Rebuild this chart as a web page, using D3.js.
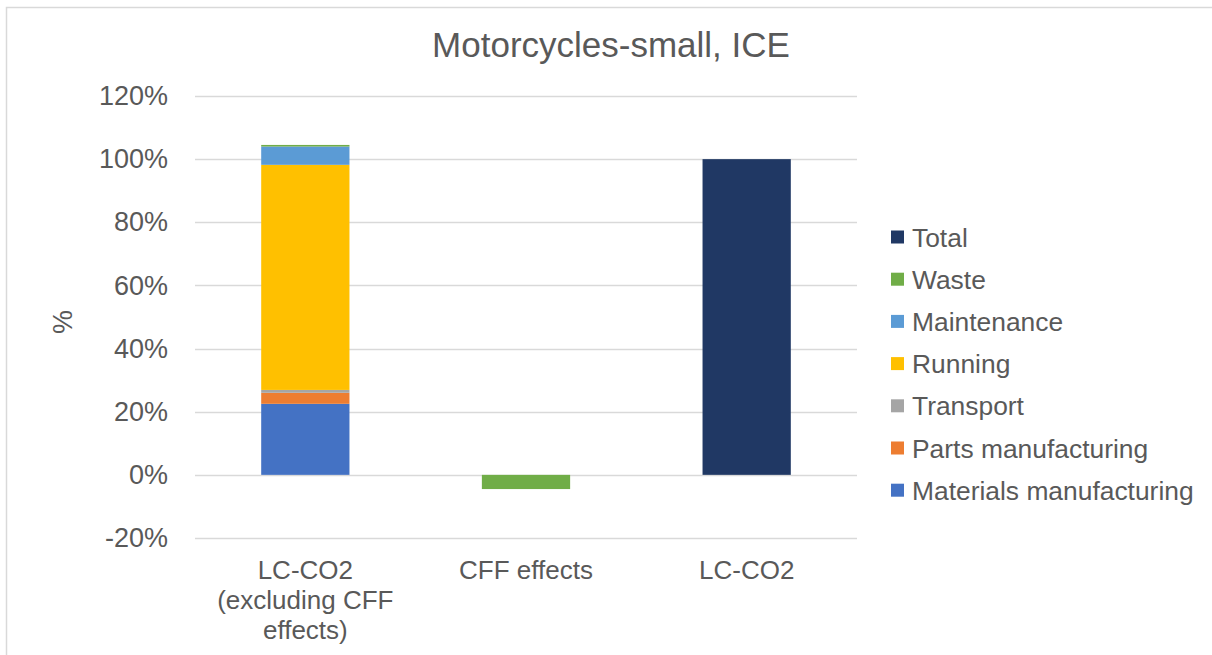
<!DOCTYPE html>
<html>
<head>
<meta charset="utf-8">
<script src="https://cdn.jsdelivr.net/npm/d3@7"></script>
<style>
  body { margin: 0; background: #fff; }
  svg { display: block; font-family: "Liberation Sans", Arial, sans-serif; }
</style>
</head>
<body>
<div id="chart"></div>
<script>
// Chart data
const categories = ["LC-CO2\n(excluding CFF\neffects)", "CFF effects", "LC-CO2"];
const seriesNames = ["Materials manufacturing", "Parts manufacturing", "Transport", "Running", "Maintenance", "Waste", "Total"];
const materials = [22.5, 0, 0];
const parts = [3.5, 0, 0];
const transport = [0.9, 0, 0];
const running = [71.3, 0, 0];
const maintenance = [5.8, 0, 0];
const waste = [0.5, -4.5, 0];
const total = [0, 0, 100];
const yTicks = [-20, 0, 20, 40, 60, 80, 100, 120];
const colors = ["#4472C4", "#ED7D31", "#A5A5A5", "#FFC000", "#5B9BD5", "#70AD47", "#203864"];

const seriesValues = [materials, parts, transport, running, maintenance, waste, total];

// Build rows for d3.stack
const rows = categories.map((c, i) => {
    const row = { category: c };
    seriesNames.forEach((s, j) => { row[s] = seriesValues[j][i]; });
    return row;
});

const width = 1212;
const height = 655;
const textColor = "#595959";

const svg = d3.select("#chart")
    .append("svg")
    .attr("width", width)
    .attr("height", height);

// Outer frame
svg.append("rect")
    .attr("x", 6.5)
    .attr("y", 7.5)
    .attr("width", 1220)
    .attr("height", 700)
    .attr("fill", "none")
    .attr("stroke", "#d9d9d9")
    .attr("stroke-width", 1.5);

// Scales
const xScale = d3.scaleBand()
    .domain(categories)
    .range([195, 857])
    .paddingInner(0.6)
    .paddingOuter(0.3);

const yScale = d3.scaleLinear()
    .domain([-20, 120])
    .range([538, 96]);

// Gridlines
svg.append("g")
    .selectAll("line")
    .data(yTicks)
    .enter()
    .append("line")
    .attr("x1", 195)
    .attr("x2", 857)
    .attr("y1", d => Math.round(yScale(d)) + 0.5)
    .attr("y2", d => Math.round(yScale(d)) + 0.5)
    .attr("stroke", "#d9d9d9")
    .attr("stroke-width", 1.5);

// Y axis labels
const yAxis = d3.axisLeft(yScale)
    .tickValues(yTicks)
    .tickFormat(d => d + "%")
    .tickSize(0)
    .tickPadding(27);

const yAxisG = svg.append("g")
    .attr("transform", "translate(195,0)")
    .call(yAxis);
yAxisG.select(".domain").remove();
yAxisG.selectAll("text")
    .attr("fill", textColor)
    .style("font-size", "27px")
    .style("font-family", "'Liberation Sans', Arial, sans-serif");

// Stacked bars
const stack = d3.stack()
    .keys(seriesNames)
    .offset(d3.stackOffsetDiverging);
const stacked = stack(rows);

svg.append("g")
    .selectAll("g")
    .data(stacked)
    .enter()
    .append("g")
    .attr("fill", (d, i) => colors[i])
    .selectAll("rect")
    .data(d => d)
    .enter()
    .append("rect")
    .attr("x", d => xScale(d.data.category))
    .attr("width", xScale.bandwidth())
    .attr("y", d => yScale(Math.max(d[0], d[1])))
    .attr("height", d => Math.abs(yScale(d[0]) - yScale(d[1])));

// Category labels
const catLabels = svg.append("g")
    .selectAll("text")
    .data(categories)
    .enter()
    .append("text")
    .attr("text-anchor", "middle")
    .attr("fill", textColor)
    .style("font-size", "26px")
    .attr("y", 579);

catLabels.each(function(d) {
    const t = d3.select(this);
    d.split("\n").forEach((line, i) => {
        t.append("tspan")
            .attr("x", xScale(d) + xScale.bandwidth() / 2)
            .attr("y", 579 + i * 30)
            .text(line);
    });
});

// Y axis title
svg.append("text")
    .attr("transform", "translate(72,322) rotate(-90)")
    .attr("text-anchor", "middle")
    .attr("fill", textColor)
    .style("font-size", "27px")
    .text("%");

// Chart title
svg.append("text")
    .attr("x", 611)
    .attr("y", 57)
    .attr("text-anchor", "middle")
    .attr("fill", textColor)
    .style("font-size", "35px")
    .text("Motorcycles-small, ICE");

// Legend (reverse order, Total on top)
const legendItems = seriesNames.map((s, i) => ({ name: s, color: colors[i] })).reverse();

const legend = svg.append("g")
    .selectAll("g")
    .data(legendItems)
    .enter()
    .append("g")
    .attr("transform", (d, i) => `translate(891, ${237 + i * 42.2})`);

legend.append("rect")
    .attr("x", 0)
    .attr("y", -6.5)
    .attr("width", 13)
    .attr("height", 13)
    .attr("fill", d => d.color);

legend.append("text")
    .attr("x", 21)
    .attr("y", 9.5)
    .attr("fill", textColor)
    .style("font-size", "26.4px")
    .text(d => d.name);
</script>
</body>
</html>
